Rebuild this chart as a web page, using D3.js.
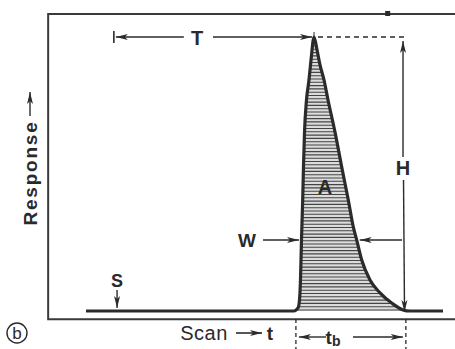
<!DOCTYPE html>
<html>
<head>
<meta charset="utf-8">
<script src="https://cdn.jsdelivr.net/npm/d3@7"></script>
<style>
body { margin: 0; background: #fff; }
text { font-family: "Liberation Sans", Arial, sans-serif; fill: #2a2a2a; }
</style>
</head>
<body>
<svg width="455" height="349"></svg>
<script>
// Peak trace: scan time (0-100) vs relative response (0-1)
var riseT = [58.26, 59.38, 59.8, 60.08, 60.36, 60.7, 60.92, 61.2, 61.76, 62.46, 63.03, 63.87];
var riseR = [0, 0.011, 0.04, 0.113, 0.259, 0.405, 0.526, 0.65, 0.77, 0.843, 0.916, 1];
var fallT = [64.71, 65.55, 66.67, 67.79, 69.75, 71.62, 73.47, 74.87, 75.83, 77.23, 79.55, 82.35, 85.63, 88.8, 90.76];
var fallR = [0.953, 0.898, 0.843, 0.77, 0.653, 0.526, 0.405, 0.307, 0.259, 0.186, 0.113, 0.066, 0.029, 0.004, 0];
var baseStart = 0, baseEnd = 100;
var frameT = [-10.6, 103.4];
var frameR = [-0.03, 1.084];

// annotation values
var tStart = 7.8;        // start of T
var tPeak = 63.87;       // retention time
var wLevel = 0.259;      // level where W is measured
var wLeft = 60.36, wRight = 75.83;
var hT = 88.8;           // where H is drawn
var sT = 8.7;            // S marker
var tb = [58.8, 89.6];   // peak base width

var svg = d3.select("svg"),
  width = +svg.attr("width"),
  height = +svg.attr("height");

var x = d3.scaleLinear().domain([0, 100]).range([86, 443]);
var y = d3.scaleLinear().domain([0, 1]).range([311, 37]);

var ink = "#2b2b2b";

// arrow heads
var defs = svg.append("defs");
defs.append("marker")
  .attr("id", "head")
  .attr("viewBox", "0 0 12 8")
  .attr("refX", 12).attr("refY", 4)
  .attr("markerWidth", 12).attr("markerHeight", 8)
  .attr("markerUnits", "userSpaceOnUse")
  .attr("orient", "auto")
  .append("path").attr("d", "M0,1 L12,4 L0,7 L3,4 z").attr("fill", ink);

// the trace
var trace = [];
trace.push([baseStart, 0]);
riseT.forEach(function(t, i) { trace.push([t, riseR[i]]); });
fallT.forEach(function(t, i) { trace.push([t, fallR[i]]); });
trace.push([baseEnd, 0]);

var peak = [];
riseT.forEach(function(t, i) { peak.push([t, riseR[i]]); });
fallT.forEach(function(t, i) { peak.push([t, fallR[i]]); });

var line = d3.line()
  .x(function(d) { return x(d[0]); })
  .y(function(d) { return y(d[1]); })
  .curve(d3.curveMonotoneX);

defs.append("clipPath").attr("id", "peakClip")
  .append("path").attr("d", line(peak) + "Z");

// hatched peak area
var hatch = svg.append("g").attr("clip-path", "url(#peakClip)");
hatch.append("rect")
  .attr("x", x(tb[0]) - 4).attr("y", y(1) - 2)
  .attr("width", x(tb[1]) - x(tb[0]) + 8).attr("height", y(0) - y(1) + 4)
  .attr("fill", "#dcdcdc");
hatch.selectAll("line.h")
  .data(d3.range(y(0) - 1, y(1), -3.3))
  .enter().append("line")
  .attr("x1", x(tb[0]) - 4).attr("x2", x(tb[1]) + 4)
  .attr("y1", function(d) { return d; }).attr("y2", function(d) { return d; })
  .attr("stroke", "#444").attr("stroke-width", 1.1);

// frame
svg.append("path")
  .attr("d", "M" + width + "," + y(frameR[1]) + "H" + x(frameT[0]) + "V" + y(frameR[0]) + "H" + width)
  .attr("fill", "none").attr("stroke", "#3a3a3a").attr("stroke-width", 2);
svg.append("rect")
  .attr("x", x(83.8)).attr("y", y(frameR[1]) - 3)
  .attr("width", 5).attr("height", 5).attr("fill", ink);

// trace line
svg.append("path")
  .attr("d", line(trace))
  .attr("fill", "none").attr("stroke", ink)
  .attr("stroke-width", 3.2).attr("stroke-linejoin", "round");

function arrow(x1, y1, x2, y2, w) {
  svg.append("line")
    .attr("x1", x1).attr("y1", y1).attr("x2", x2).attr("y2", y2)
    .attr("stroke", ink).attr("stroke-width", w || 1.4)
    .attr("marker-end", "url(#head)");
}
function label(txt, px, py, size, weight) {
  return svg.append("text")
    .attr("x", px).attr("y", py)
    .attr("text-anchor", "middle").attr("dominant-baseline", "central")
    .style("font-size", size + "px").style("font-weight", weight || "bold")
    .text(txt);
}

// T
svg.append("line").attr("x1", x(tStart)).attr("x2", x(tStart))
  .attr("y1", y(1) - 6).attr("y2", y(1) + 6).attr("stroke", ink).attr("stroke-width", 1.6);
arrow(x(tStart) + 70, y(1), x(tStart) + 2, y(1));
label("T", 197, y(1) + 1, 20);
arrow(213, y(1), x(tPeak) - 2, y(1));
svg.append("line").attr("x1", x(tPeak)).attr("x2", x(tPeak))
  .attr("y1", y(1) - 5).attr("y2", y(1)).attr("stroke", ink).attr("stroke-width", 1);

// dashed level of peak top
svg.append("line")
  .attr("x1", x(tPeak) + 4).attr("x2", x(hT) + 2)
  .attr("y1", y(1)).attr("y2", y(1))
  .attr("stroke", ink).attr("stroke-width", 1.6).attr("stroke-dasharray", "5,4");

// H
arrow(x(hT), 157, x(hT), y(1) + 4);
label("H", x(hT), 168, 20);
arrow(x(hT) + 0.5, 180, x(hT) + 1.5, y(0) + 1);

// A
label("A", 325, 187, 20);

// W
label("W", 247, y(wLevel), 19);
arrow(263, y(wLevel), x(wLeft) - 2.5, y(wLevel));
arrow(x(hT) - 1, y(wLevel), x(wRight) + 3, y(wLevel));

// S
label("S", x(sT), 281, 18);
arrow(x(sT), 290, x(sT), y(0) - 3);

// Response
svg.append("text")
  .attr("transform", "translate(30,173) rotate(-90)")
  .attr("text-anchor", "middle").attr("dominant-baseline", "central")
  .style("font-size", "19px").style("font-weight", "bold")
  .style("letter-spacing", "1.8px")
  .text("Response");
arrow(30, 116, 30, 92);

// Scan -> t
label("Scan", 204, 333, 20, "normal").style("letter-spacing", "0.5px");
arrow(236, 333, 262, 333, 1.6);
label("t", 270, 333, 19);

// tb
tb.forEach(function(t) {
  svg.append("line")
    .attr("x1", x(t)).attr("x2", x(t))
    .attr("y1", y(0) + 8).attr("y2", height)
    .attr("stroke", ink).attr("stroke-width", 1.3).attr("stroke-dasharray", "4,3");
});
arrow(326, 337, x(tb[0]) + 3, 337);
var tbl = label("t", 333, 337, 19);
tbl.append("tspan").attr("dy", 4).style("font-size", "14px").text("b");
arrow(353, 337, x(tb[1]) - 3, 337);

// (b)
svg.append("circle").attr("cx", 17).attr("cy", 333).attr("r", 10)
  .attr("fill", "none").attr("stroke", ink).attr("stroke-width", 1.4);
label("b", 17, 333, 17, "normal");
</script>
</body>
</html>
